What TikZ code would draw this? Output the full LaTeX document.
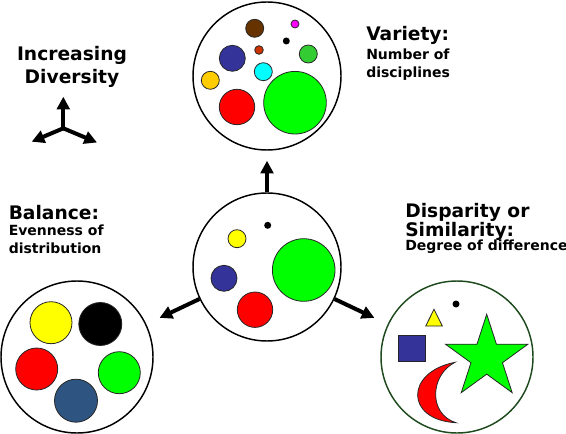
\documentclass[tikz,border=0pt]{standalone}
\usepackage{fontspec}
\setmainfont{DejaVu Sans}
\usetikzlibrary{arrows.meta,shapes.geometric,positioning}
\definecolor{brownC}{HTML}{663300}
\definecolor{magentaC}{HTML}{FF00FF}
\definecolor{rustC}{HTML}{CC3300}
\definecolor{navyC}{HTML}{333399}
\definecolor{leafC}{HTML}{33CC33}
\definecolor{cyanC}{HTML}{00FFFF}
\definecolor{goldC}{HTML}{FFCC00}
\definecolor{redC}{HTML}{FF0000}
\definecolor{limeC}{HTML}{00FF00}
\definecolor{yellowC}{HTML}{FFFF00}
\definecolor{steelC}{HTML}{2E5481}
\definecolor{greenLine}{HTML}{1E4A1E}
\tikzstyle{ring} = [draw, circle, line width=1.1pt, inner sep=0pt, minimum size=111pt]
\tikzstyle{disc} = [draw=black!85, line width=0.6pt]
\tikzstyle{fatArrow} = [line width=3pt, -{Triangle[length=9.5pt,width=9.5pt]}]

\begin{document}
\begin{tikzpicture}[x=0.75pt,y=-0.75pt,
    heading/.style={font=\fontsize{14}{17.3}\selectfont\bfseries, inner sep=0pt, anchor=base west, align=left},
    detail/.style={font=\fontsize{10.5}{13}\selectfont\bfseries, inner sep=0pt, anchor=base west, align=left}]
  \useasboundingbox (0,0) rectangle (566,434);

  % the four samples
  \node[ring] (variety) at (267,76) {};
  \node[ring] (mixed) at (267,267) {};
  \node[ring, minimum size=114pt] (balance) at (77,357) {};
  \node[ring, minimum size=114pt, draw=greenLine] (disparity) at (457,357) {};

  \draw[fatArrow, shorten >=7.5pt] (mixed) -- (variety);
  \draw[fatArrow, shorten >=11pt] (mixed) -- (balance);
  \draw[fatArrow, shorten >=11pt] (mixed) -- (disparity);

  % increasing diversity
  \coordinate (hub) at (63.3,128.3);
  \coordinate (hubUp) at (63.3,96.7);
  \coordinate (hubLeft) at (31.7,141.7);
  \coordinate (hubRight) at (97,142.5);
  \foreach \tip in {hubUp,hubLeft,hubRight}
    \draw[fatArrow, line cap=round] (hub) -- (\tip);
  \node[heading, anchor=base, align=center] (goal) at (72,84) {Increasing\\Diversity};

  % labels
  \node[heading] (varietyHead) at (366,40.7) {Variety:};
  \node[detail] (varietyText) at (366,77.3) {Number of\\disciplines};
  \node[heading] (balanceHead) at (8.5,219.3) {Balance:};
  \node[detail] (balanceText) at (8.5,253.3) {Evenness of\\distribution};
  \node[heading, font=\fontsize{14}{13.2}\selectfont\bfseries] (disparityHead) at (405,237) {Disparity or\\Similarity:};
  \node[detail] (disparityText) at (405,250.5) {Degree of difference};

  % variety
  \draw[disc, fill=brownC] (254.7,28.3) circle (9);
  \draw[disc, fill=magentaC] (295,24) circle (4);
  \fill (286.3,41) circle (3.5);
  \draw[disc, fill=rustC] (259,50) circle (4.3);
  \draw[disc, fill=navyC] (232.3,58.3) circle (13);
  \draw[disc, fill=leafC] (308.3,54) circle (9);
  \draw[disc, fill=cyanC] (263.3,71.7) circle (9);
  \draw[disc, fill=goldC] (210.3,80.3) circle (9);
  \draw[disc, fill=redC] (237,107) circle (17.7);
  \draw[disc, fill=limeC] (295,102.7) circle (31.3);

  % mixed
  \fill (267.7,225.3) circle (3.5);
  \draw[disc, fill=yellowC] (237,238.7) circle (9);
  \draw[disc, fill=limeC] (303.7,270) circle (31.3);
  \draw[disc, fill=navyC] (224,278.3) circle (13);
  \draw[disc, fill=redC] (255,309.7) circle (17.7);

  % balance
  \draw[disc, fill=yellowC] (51,322.7) circle (21);
  \draw[disc, fill=black] (100.3,324) circle (21.5);
  \draw[disc, fill=redC] (36.7,369) circle (21);
  \draw[disc, fill=limeC] (119.3,372.7) circle (21);
  \draw[disc, fill=steelC] (76,400.7) circle (21.5);

  % disparity
  \fill (456,304) circle (3.5);
  \draw[disc, fill=yellowC] (425.7,326) -- (442.3,326) -- (434,309.3) -- cycle;
  \draw[disc, fill=navyC] (398.7,335.3) rectangle (425.3,361.3);
  \node[star, star points=5, star point ratio=2.618, minimum size=65pt, inner sep=0pt,
        disc, fill=limeC] (star) at (486.7,357.6) {};
  \draw[disc, fill=redC] (455,362.3) .. controls (405,372) and (405,420) .. (456,422.7)
    .. controls (428,414) and (430,375) .. cycle;
\end{tikzpicture}
\end{document}
